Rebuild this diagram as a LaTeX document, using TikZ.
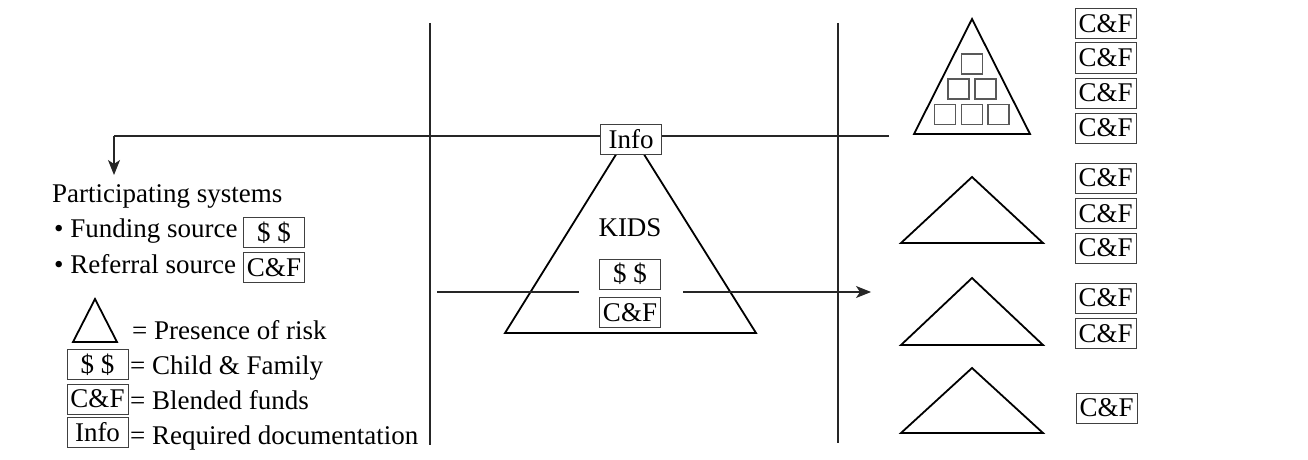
\documentclass[tikz,border=0pt]{standalone}
\usepackage{fontspec}
\setmainfont{Liberation Serif}
\usetikzlibrary{arrows.meta}
\begin{document}
\begin{tikzpicture}[x=1pt,y=-1pt,
  txt/.style={font=\fontsize{27}{30}\selectfont, inner sep=0pt, anchor=base west},
  tbox/.style={draw=black!75, line width=1pt, fill=white, minimum width=61pt, minimum height=30pt, inner sep=0pt, font=\fontsize{27}{30}\selectfont},
  sq/.style={draw=black!65, line width=1.3pt, minimum width=21pt, minimum height=20pt, inner sep=0pt},
  tri/.style={draw=black, line width=1.8pt, line join=miter},
  thin/.style={draw=black!85, line width=1.1pt},
  arr/.style={thin, -{Stealth[length=15pt, width=12pt, inset=4pt]}}
]
\useasboundingbox (0,0) rectangle (1308,460);
% vertical dividers
\coordinate (v1t) at (430,23); \coordinate (v1b) at (430,445);
\coordinate (v2t) at (838,23); \coordinate (v2b) at (838,443);
\draw[thin] (v1t) -- (v1b);
\draw[thin] (v2t) -- (v2b);
% KIDS triangle
\draw[tri] (630,132) -- (756,333) -- (505,333) -- cycle;
% info feedback line
\coordinate (infoR) at (889,136);
\coordinate (corner) at (114,136);
\coordinate (dtip) at (114,175);
\draw[thin] (infoR) -- (corner);
\draw[arr] (corner) -- (dtip);
% middle arrow
\coordinate (mL) at (437,292); \coordinate (mL2) at (579,292);
\coordinate (mR) at (683,292); \coordinate (mtip) at (871,292);
\draw[thin] (mL) -- (mL2);
\draw[arr] (mR) -- (mtip);
% KIDS content
\node[tbox] (info) at (631,139.5) {Info};
\node[font=\fontsize{27}{30}\selectfont, inner sep=0pt] (kids) at (630,228) {KIDS};
\node[tbox] (kd) at (630,274) {\$ \$};
\node[tbox] (kc) at (630,312.5) {C\&F};
% left texts
\node[txt] (ps) at (52,202) {Participating systems};
\node[txt] (fs) at (54,237) {\textbullet\ Funding source};
\node[txt] (rs) at (54,273) {\textbullet\ Referral source};
\node[tbox] (fsb) at (274,232.5) {\$ \$};
\node[tbox] (rsb) at (274,267.5) {C\&F};
% legend
\draw[tri] (95,299) -- (117,342) -- (73,342) -- cycle;
\node[txt] (l1) at (132,339) {= Presence of risk};
\node[tbox] (ld) at (97.5,364.5) {\$ \$};
\node[txt] (l2) at (130,374) {= Child \& Family};
\node[tbox] (lc) at (97.5,399) {C\&F};
\node[txt] (l3) at (130,409) {= Blended funds};
\node[tbox] (li) at (97.5,432.5) {Info};
\node[txt] (l4) at (130,444) {= Required documentation};
% right triangles
\draw[tri] (972,19) -- (1030,134) -- (914,134) -- cycle;
\node[sq] (s1) at (972,64) {};
\node[sq] (s2) at (958.5,89) {};
\node[sq] (s3) at (985.5,89) {};
\node[sq] (s4) at (945,114.5) {};
\node[sq] (s5) at (972,114.5) {};
\node[sq] (s6) at (998.5,114.5) {};
\draw[tri] (972,177) -- (1043,243) -- (901,243) -- cycle;
\draw[tri] (972,278) -- (1043,345) -- (901,345) -- cycle;
\draw[tri] (972,368) -- (1043,433) -- (901,433) -- cycle;
% right C&F boxes
\node[tbox] (r1) at (1105.5,24) {C\&F};
\node[tbox] (r2) at (1105.5,58) {C\&F};
\node[tbox] (r3) at (1105.5,93) {C\&F};
\node[tbox] (r4) at (1105.5,128) {C\&F};
\node[tbox] (r5) at (1105.5,178) {C\&F};
\node[tbox] (r6) at (1105.5,213.5) {C\&F};
\node[tbox] (r7) at (1105.5,248) {C\&F};
\node[tbox] (r8) at (1105.5,298) {C\&F};
\node[tbox] (r9) at (1105.5,333.5) {C\&F};
\node[tbox] (r10) at (1106.5,408) {C\&F};
\end{tikzpicture}
\end{document}
